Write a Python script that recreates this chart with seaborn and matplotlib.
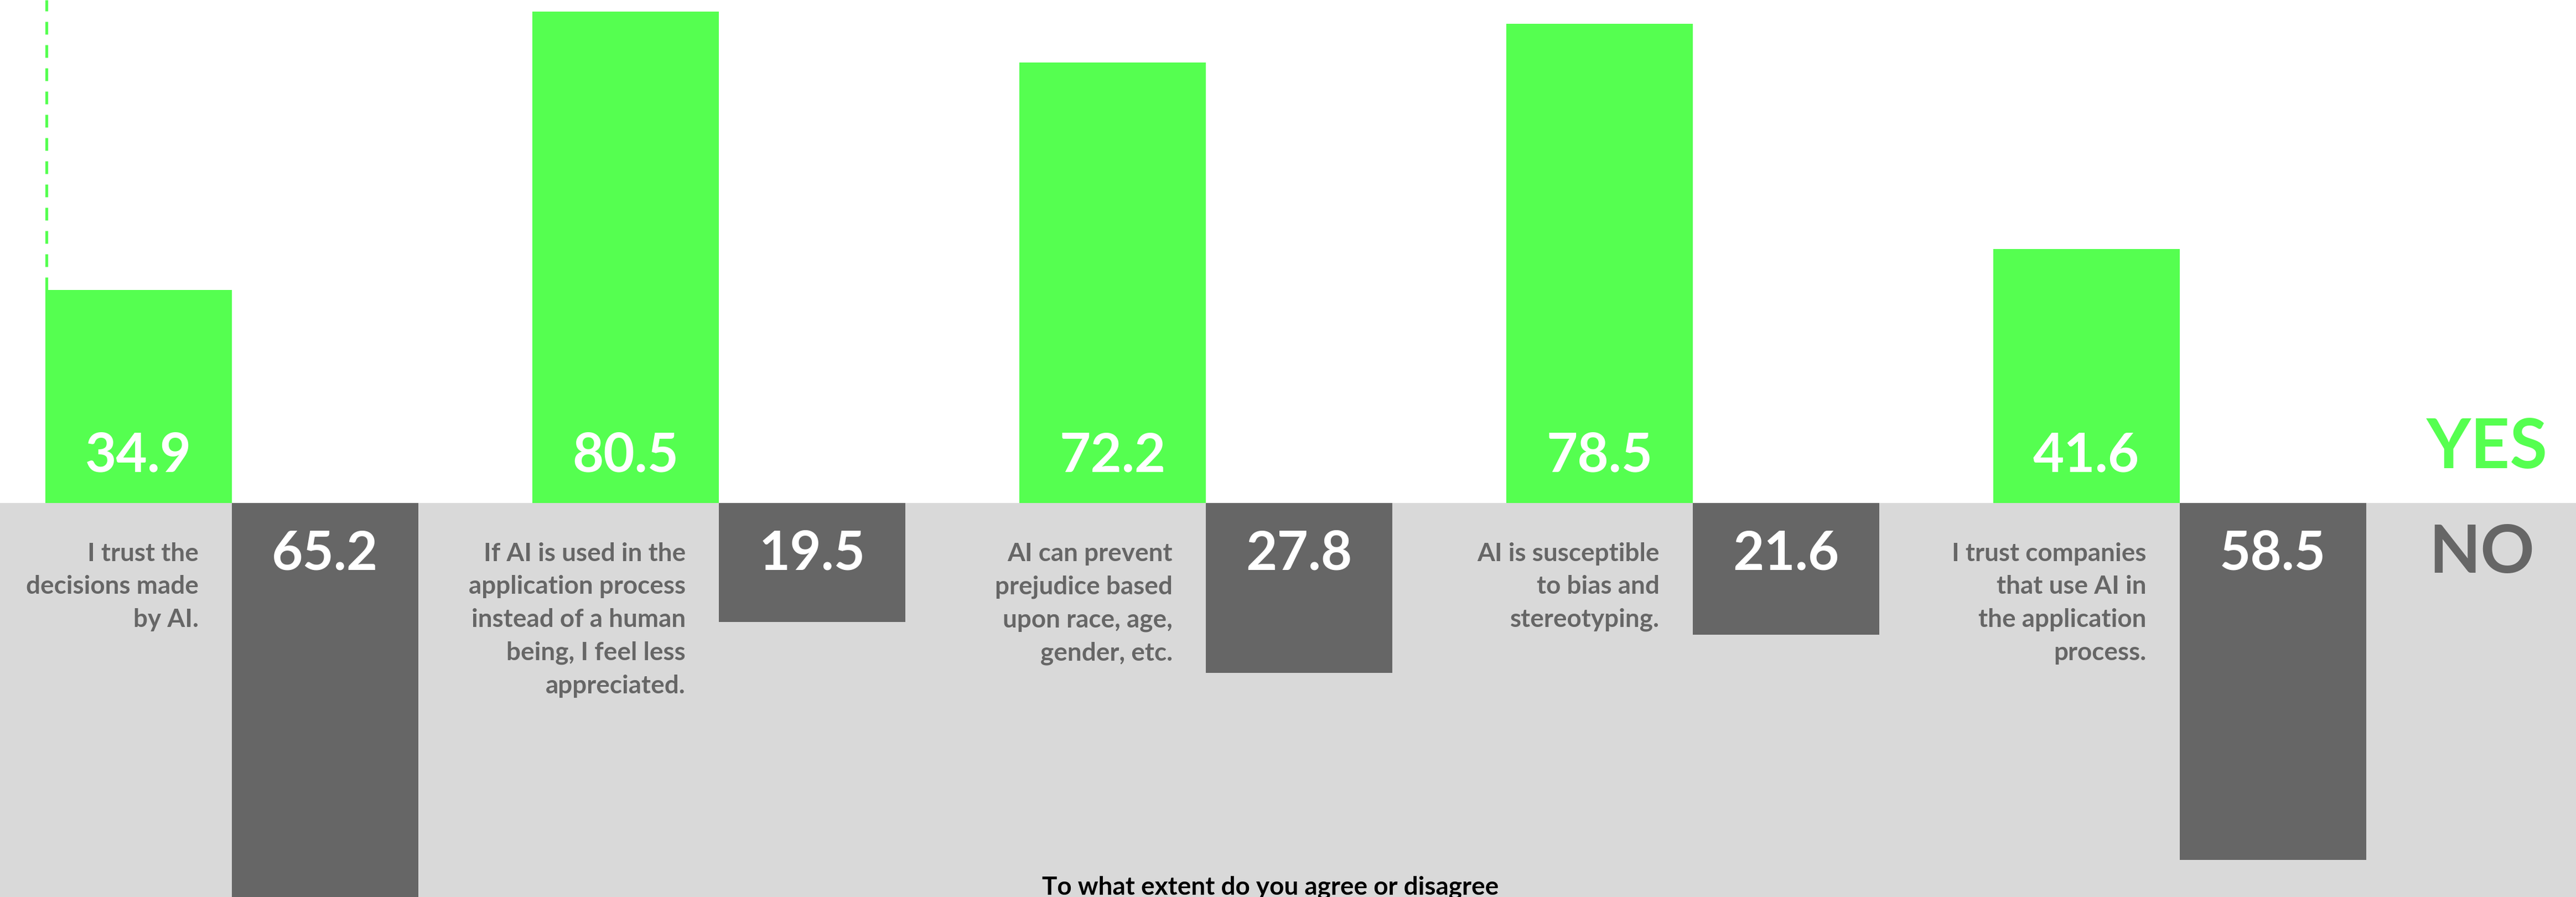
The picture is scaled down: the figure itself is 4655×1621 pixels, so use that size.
import matplotlib
matplotlib.use("Agg")
import matplotlib.pyplot as plt
import seaborn as sns
import pandas as pd

# Survey statements and answer shares (%)
statements = [
    "I trust the\ndecisions made\nby AI.",
    "If AI is used in the\napplication process\ninstead of a human\nbeing, I feel less\nappreciated.",
    "AI can prevent\nprejudice based\nupon race, age,\ngender, etc.",
    "AI is susceptible\nto bias and\nstereotyping.",
    "I trust companies\nthat use AI in\nthe application\nprocess.",
]
yes_share = [34.9, 80.5, 72.2, 78.5, 41.6]
no_share = [65.2, 19.5, 27.8, 21.6, 58.5]
answers = ["YES", "NO"]
question = "To what extent do you agree or disagree"

GREEN = "#55FF50"
DARK = "#666666"
LIGHT = "#D9D9D9"

sns.set_theme(style="white")
plt.rcParams["font.family"] = ["Lato", "DejaVu Sans"]

# YES bars grow upward, NO bars hang below the zero line
df = pd.DataFrame({
    "statement": statements * 2,
    "answer": [answers[0]] * len(statements) + [answers[1]] * len(statements),
    "share": yes_share + [-v for v in no_share],
})

fig = plt.figure(figsize=(46.55, 16.21), dpi=100)
ax = fig.add_axes([0, 0, 1, 1])

sns.barplot(data=df, x="statement", y="share", hue="answer",
            hue_order=answers, order=statements,
            palette={answers[0]: GREEN, answers[1]: DARK},
            width=0.766, saturation=1, dodge=True, legend=False,
            linewidth=0, errorbar=None, ax=ax, zorder=3)

ax.set_xlim(-0.476, 4.814)
ax.set_ylim(-64.55, 82.41)
ax.axis("off")

# grey band for the lower half
ax.axhspan(-64.55, 0, color=LIGHT, zorder=0, lw=0)

# dashed guide above the first YES bar
first = ax.patches[0]
ax.vlines(first.get_x() + 0.003, first.get_height(), 82.41, colors=GREEN,
          linewidth=3.6, linestyles=(0, (4.6, 3.8)), zorder=2)

for i, (txt, y, n) in enumerate(zip(statements, yes_share, no_share)):
    bw = 0.383
    ax.text(i - bw / 2, 5.1, f"{y:.1f}", ha="center", va="baseline",
            color="white", fontsize=70, fontweight="bold", zorder=5)
    ax.text(i + bw / 2, -4.35, f"{n:.1f}", ha="center", va="top",
            color="white", fontsize=70, fontweight="bold", zorder=5)
    ax.text(i - 0.068, -6.4, txt, ha="right", va="top", color=DARK,
            fontsize=33, fontweight="bold", linespacing=1.52, zorder=5)

ax.text(4.632, 9.0, answers[0], ha="center", va="center", color=GREEN,
        fontsize=89, fontweight="bold", zorder=5)
ax.text(4.62, -8.25, answers[1], ha="center", va="center", color=DARK,
        fontsize=87, fontweight="bold", zorder=5)

ax.text(2.133, -64.1, question, ha="center", va="baseline", color="black",
        fontsize=33, fontweight="bold", zorder=5)

fig.savefig("out.png", dpi=100, facecolor="white")
